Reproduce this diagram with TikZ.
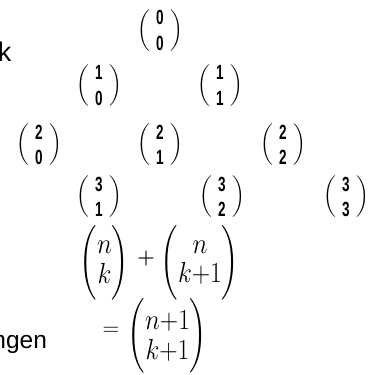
\RequirePackage{fix-cm}
\documentclass[tikz,border=0pt]{standalone}
\usepackage{amsmath}
\usepackage{graphicx}
\usepackage{fontspec}
\newfontfamily\arialfont{Liberation Sans}
\newcommand{\dg}[1]{\scalebox{0.66}[1]{\arialfont\bfseries\fontsize{20.5}{20.5}\selectfont #1}}
\newcommand{\pbin}[2]{\fontsize{19}{22}\selectfont$\left(\vrule height 27.25pt depth 17.75pt width 0pt\vcenter{\hbox{\kern6.5pt\vbox{\baselineskip=25.5pt\lineskiplimit=-100pt\halign{\hfil##\hfil\cr\dg{#1}\cr\dg{#2}\cr}}\kern6.5pt}}\right)$}
\newcommand{\bbin}[2]{\fontsize{29}{31}\selectfont\scalebox{0.88}[1]{$\left(\vrule height 42.25pt depth 27.75pt width 0pt\vcenter{\hbox{\vbox{\baselineskip=29.5pt\lineskiplimit=-100pt\halign{\hfil$##$\hfil\cr #1\cr #2\cr}}}}\right)$}}
\tikzset{
  every node/.style={inner sep=0pt, outer sep=0pt},
  pascal/.style={},
  lbl/.style={font=\arialfont}
}
\begin{document}
\begin{tikzpicture}[x=1pt,y=-1pt]
\useasboundingbox (0,0) rectangle (382,374);
% Pascal triangle
\node[pascal] (b00) at (160,30.5) {\pbin{0}{0}};
\node[pascal] (b10) at (99,85.5) {\pbin{1}{0}};
\node[pascal] (b11) at (220,85.5) {\pbin{1}{1}};
\node[pascal] (b20) at (39,145) {\pbin{2}{0}};
\node[pascal] (b21) at (160,145) {\pbin{2}{1}};
\node[pascal] (b22) at (283,145) {\pbin{2}{2}};
\node[pascal] (b30) at (-20.5,197) {\pbin{3}{0}};
\node[pascal] (b31) at (99,197) {\pbin{3}{1}};
\node[pascal] (b32) at (222,197) {\pbin{3}{2}};
\node[pascal] (b33) at (346,197) {\pbin{3}{3}};
% formula
\node (f1) at (104.5,262.5) {\bbin{n}{k}};
\node (plus) at (146,259) {\fontsize{20}{22}\selectfont\textbf{+}};
\node (f2) at (200,262.5) {\bbin{n}{k{+}1}};
\node (eq) at (111,331) {\fontsize{23}{26}\selectfont$=$};
\node (f3) at (167.5,336) {\bbin{n{+}1}{k{+}1}};
% cut-off side texts
\node[lbl, anchor=base west, font=\arialfont\fontsize{27}{30}\selectfont] (tk) at (-2,62) {k};
\node[lbl, anchor=base west, font=\arialfont\fontsize{24.5}{28}\selectfont] (tngen) at (-7.5,348) {ngen};
\end{tikzpicture}
\end{document}
